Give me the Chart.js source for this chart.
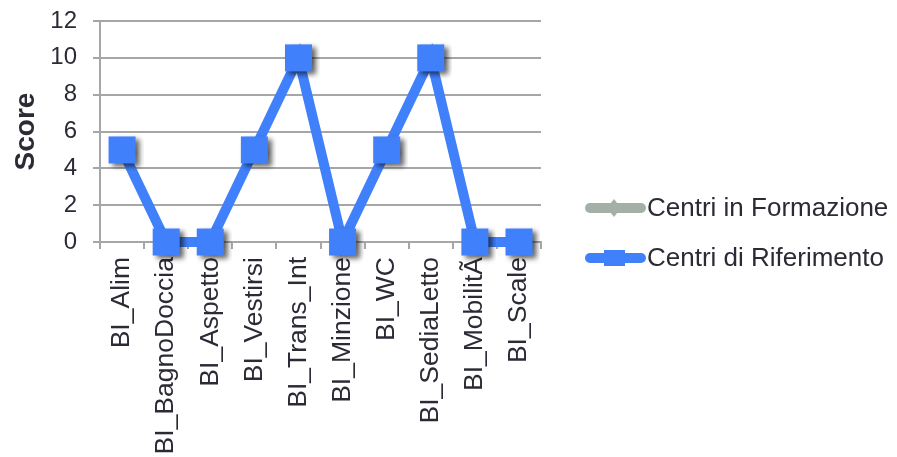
<!DOCTYPE html>
<html>
<head>
<meta charset="utf-8">
<script src="https://cdn.jsdelivr.net/npm/chart.js@4.4.1/dist/chart.umd.min.js"></script>
<style>
    html, body { margin: 0; padding: 0; background: #fff; }
    #wrap { width: 897px; height: 457px; }
</style>
</head>
<body>
<div id="wrap"><canvas id="myChart" width="897" height="457"></canvas></div>
<script>
// Barthel index items and scores per group
const categories = ['BI_Alim', 'BI_BagnoDoccia', 'BI_Aspetto', 'BI_Vestirsi', 'BI_Trans_Int',
    'BI_Minzione', 'BI_WC', 'BI_SediaLetto', 'BI_MobilitÃ', 'BI_Scale'];
const seriesNames = ['Centri in Formazione', 'Centri di Riferimento'];
const formazione = [5, 0, 0, 5, 10, 0, 5, 10, 0, 0];
const riferimento = [5, 0, 0, 5, 10, 0, 5, 10, 0, 0];
const yTicks = [0, 2, 4, 6, 8, 10, 12];

const BLUE = '#4080fb';
const GRAY = '#a4afa7';
const TEXT = '#2b2b36';
const FONT = '"Liberation Sans", Arial, sans-serif';

/**
 * Marker image with a soft drop shadow
 * @param {String} shape - 'rect' or 'diamond'
 * @param {Number} side - marker size in px
 * @param {String} color - fill colour
 * @returns {HTMLCanvasElement}
 */
function makeMarker(shape, side, color) {
    let size = side + 16;
    let c = document.createElement('canvas');
    c.width = size;
    c.height = size;
    let ctx = c.getContext('2d');
    ctx.shadowColor = 'rgba(0,0,0,0.6)';
    ctx.shadowBlur = 5;
    ctx.shadowOffsetX = 4;
    ctx.shadowOffsetY = 3;
    ctx.fillStyle = color;
    let m = size / 2;
    if (shape === 'rect') {
        ctx.fillRect(m - side / 2, m - side / 2, side, side);
    } else {
        ctx.beginPath();
        ctx.moveTo(m, m - side / 2);
        ctx.lineTo(m + side / 2, m);
        ctx.lineTo(m, m + side / 2);
        ctx.lineTo(m - side / 2, m);
        ctx.closePath();
        ctx.fill();
    }
    return c;
}

const blueMarker = makeMarker('rect', 27, BLUE);
const grayMarker = makeMarker('diamond', 20, GRAY);

// legend drawn at the right side, line + marker like the series
const sideLegend = {
    id: 'sideLegend',
    afterDraw(chart) {
        let ctx = chart.ctx;
        let rows = [
            { label: seriesNames[0], color: GRAY, y: 208, marker: 'diamond' },
            { label: seriesNames[1], color: BLUE, y: 258, marker: 'rect' }
        ];
        ctx.save();
        for (let row of rows) {
            ctx.strokeStyle = row.color;
            ctx.lineWidth = 10;
            ctx.lineCap = 'round';
            ctx.beginPath();
            ctx.moveTo(590, row.y);
            ctx.lineTo(641, row.y);
            ctx.stroke();
            ctx.fillStyle = row.color;
            if (row.marker === 'rect') {
                ctx.fillRect(604, row.y - 8, 21, 16);
            } else {
                ctx.beginPath();
                ctx.moveTo(614, row.y - 9);
                ctx.lineTo(621, row.y);
                ctx.lineTo(614, row.y + 9);
                ctx.lineTo(607, row.y);
                ctx.closePath();
                ctx.fill();
            }
            ctx.fillStyle = TEXT;
            ctx.font = '26px ' + FONT;
            ctx.textBaseline = 'middle';
            ctx.textAlign = 'left';
            ctx.fillText(row.label, 647, row.y + 1);
        }
        ctx.restore();
    }
};

let data = {
    labels: categories,
    datasets: [{
        label: seriesNames[1],
        data: riferimento,
        borderColor: BLUE,
        backgroundColor: BLUE,
        borderWidth: 10,
        pointStyle: blueMarker,
        pointRadius: 20,
        tension: 0,
        clip: false,
        order: 1
    }, {
        label: seriesNames[0],
        data: formazione,
        borderColor: GRAY,
        backgroundColor: GRAY,
        borderWidth: 8,
        pointStyle: grayMarker,
        pointRadius: 15,
        tension: 0,
        clip: false,
        order: 2
    }]
};

let options = {
    responsive: false,
    animation: false,
    layout: {
        autoPadding: false,
        padding: { left: 0, right: 356, top: 21, bottom: 0 }
    },
    plugins: {
        legend: { display: false },
        tooltip: { enabled: false }
    },
    scales: {
        x: {
            offset: true,
            grid: {
                offset: true,
                drawOnChartArea: false,
                drawTicks: true,
                tickLength: 7,
                color: '#a6a6a6',
                lineWidth: 2
            },
            border: { display: true, color: '#a6a6a6', width: 2 },
            ticks: {
                minRotation: 90,
                maxRotation: 90,
                autoSkip: false,
                padding: 8,
                color: TEXT,
                font: { family: FONT, size: 26.5 }
            },
            afterFit(scale) {
                scale.height = 457 - 242;
                scale.paddingLeft = 0;
                scale.paddingRight = 0;
            }
        },
        y: {
            min: 0,
            max: 12,
            afterBuildTicks(scale) {
                scale.ticks = yTicks.map(function (v) { return { value: v }; });
            },
            grid: {
                color: '#a6a6a6',
                lineWidth: 2,
                tickLength: 7
            },
            border: { display: true, color: '#a6a6a6', width: 2 },
            ticks: {
                padding: 16,
                color: TEXT,
                font: { family: FONT, size: 24 }
            },
            title: {
                display: true,
                text: 'Score',
                color: TEXT,
                padding: { top: 9, bottom: 0 },
                font: { family: FONT, size: 28, weight: 'bold' }
            },
            afterFit(scale) {
                scale.width = 100;
                scale.paddingTop = 0;
                scale.paddingBottom = 0;
            }
        }
    }
};

let ctx = document.getElementById('myChart').getContext('2d');
let myChart = new Chart(ctx, {
    type: 'line',
    data: data,
    options: options,
    plugins: [sideLegend]
});
</script>
</body>
</html>
